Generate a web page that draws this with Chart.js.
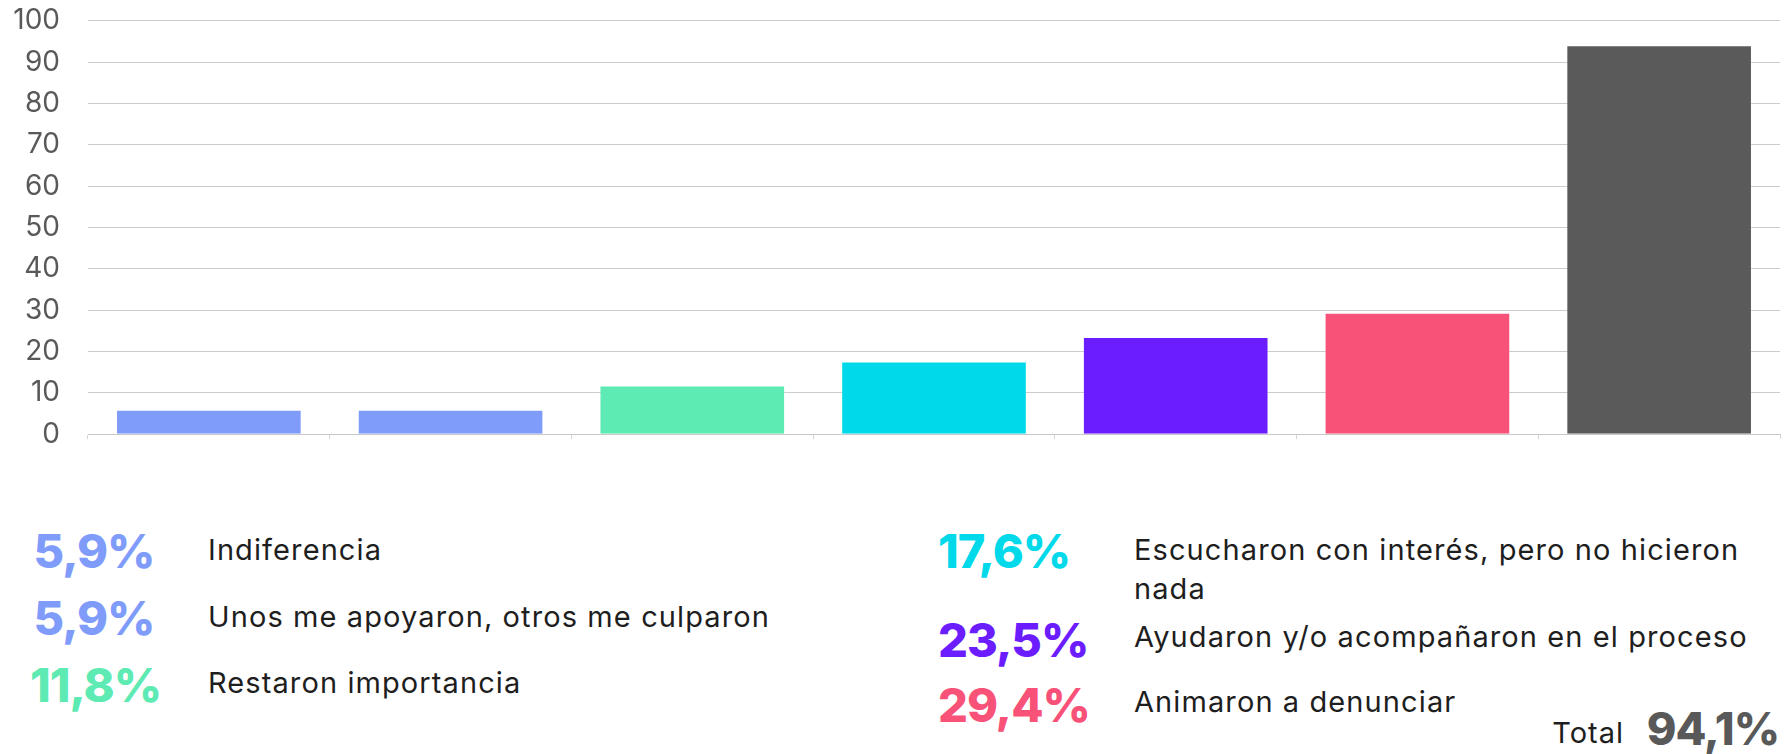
<!DOCTYPE html>
<html lang="es">
<head>
<meta charset="utf-8">
<title>Reacción del entorno</title>
<script src="https://cdn.jsdelivr.net/npm/chart.js@4.4.1/dist/chart.umd.min.js"></script>
<style>
  html, body { margin: 0; padding: 0; background: #fff; }
  #wrap { position: relative; width: 1786px; height: 754px; overflow: hidden; font-family: Inter, 'Noto Sans', sans-serif; }
  /* the y ticks padding also pads the plot top/bottom, so the canvas is lifted a bit */
  #chart-box { position: absolute; left: 0; top: -24px; width: 1786px; height: 503px; }
  .pct { position: absolute; font-weight: 800; font-size: 47px; line-height: 1; white-space: nowrap; letter-spacing: -1px; }
  .lbl { position: absolute; font-size: 29px; line-height: 39px; color: #1e1e1e; white-space: nowrap; letter-spacing: 1.1px; }
  .left-pct { width: 128px; text-align: center; }
  #total-lbl { position: absolute; right: 162px; top: 713px; font-size: 29px; line-height: 39px; color: #1e1e1e; letter-spacing: 1px; }
  #total-val { position: absolute; right: 7px; top: 706px; font-size: 45px; line-height: 1; font-weight: 800; color: #595959; letter-spacing: -1px; }
</style>
</head>
<body>
<div id="wrap">
  <div id="chart-box"><canvas id="reaction-chart"></canvas></div>
  <div id="legend"></div>
  <div id="total-lbl"></div>
  <div id="total-val"></div>
</div>
<script>
  // categories and values (percent of answers)
  var categories = [
    'Indiferencia',
    'Unos me apoyaron, otros me culparon',
    'Restaron importancia',
    'Escucharon con interés, pero no hicieron nada',
    'Ayudaron y/o acompañaron en el proceso',
    'Animaron a denunciar',
    'Total'
  ];
  var values = [5.9, 5.9, 11.8, 17.6, 23.5, 29.4, 94.1];
  var barColors = ['#7f9cfb', '#7f9cfb', '#5eeab3', '#00d9ea', '#6b1dff', '#f85279', '#5a5a5a'];
  var yTicks = [0, 10, 20, 30, 40, 50, 60, 70, 80, 90, 100];

  function pctText(v) {
    return v.toFixed(1).replace('.', ',') + '%';
  }

  /* ---- legend rows under the chart ---- */
  // [index, pct left, pct top, label left, label top, centered pct]
  var rows = [
    [0, 30, 527, 208, 530, true],
    [1, 30, 594, 208, 597, true],
    [2, 30, 661, 208, 663, true],
    [3, 938, 527, 1134, 530, false],
    [4, 938, 616, 1134, 617, false],
    [5, 938, 681, 1134, 682, false]
  ];
  var legend = document.getElementById('legend');
  rows.forEach(function(r) {
    var i = r[0];
    var p = document.createElement('div');
    p.className = 'pct' + (r[5] ? ' left-pct' : '');
    p.style.left = r[1] + 'px';
    p.style.top = r[2] + 'px';
    p.style.color = barColors[i];
    p.textContent = pctText(values[i]);
    legend.appendChild(p);

    var l = document.createElement('div');
    l.className = 'lbl';
    l.style.left = r[3] + 'px';
    l.style.top = r[4] + 'px';
    if (i === 3) {
      // long label wraps onto a second line
      l.innerHTML = 'Escucharon con interés, pero no hicieron<br>nada';
    } else {
      l.textContent = categories[i];
    }
    legend.appendChild(l);
  });
  document.getElementById('total-lbl').textContent = categories[6];
  document.getElementById('total-val').textContent = pctText(values[6]);

  /* ---- bar chart ---- */
  new Chart(document.getElementById('reaction-chart'), {
    type: 'bar',
    data: {
      labels: categories,
      datasets: [{
        data: values,
        backgroundColor: barColors,
        borderColor: 'rgba(255,255,255,0.25)',
        borderWidth: 1,
        barPercentage: 0.768,
        categoryPercentage: 1
      }]
    },
    options: {
      responsive: true,
      maintainAspectRatio: false,
      animation: false,
      layout: { padding: { top: 0, right: 6, bottom: 0, left: 0 } },
      plugins: {
        legend: { display: false },
        tooltip: { enabled: false }
      },
      scales: {
        x: {
          ticks: { display: false },
          grid: { drawOnChartArea: false, drawTicks: true, tickLength: 5, color: '#d6d6d6' },
          border: { display: true, color: '#c8c8c8' },
          afterFit: function(scale) { scale.height = 26; }
        },
        y: {
          min: 0,
          max: 100,
          afterBuildTicks: function(scale) {
            scale.ticks = yTicks.map(function(v) { return { value: v }; });
          },
          ticks: {
            color: '#595959',
            padding: 28,
            font: { family: "Inter, 'Noto Sans', sans-serif", size: 28 }
          },
          grid: { color: '#cccccc', drawTicks: false },
          border: { display: false },
          afterFit: function(scale) { scale.width = 88; }
        }
      }
    }
  });
</script>
</body>
</html>
